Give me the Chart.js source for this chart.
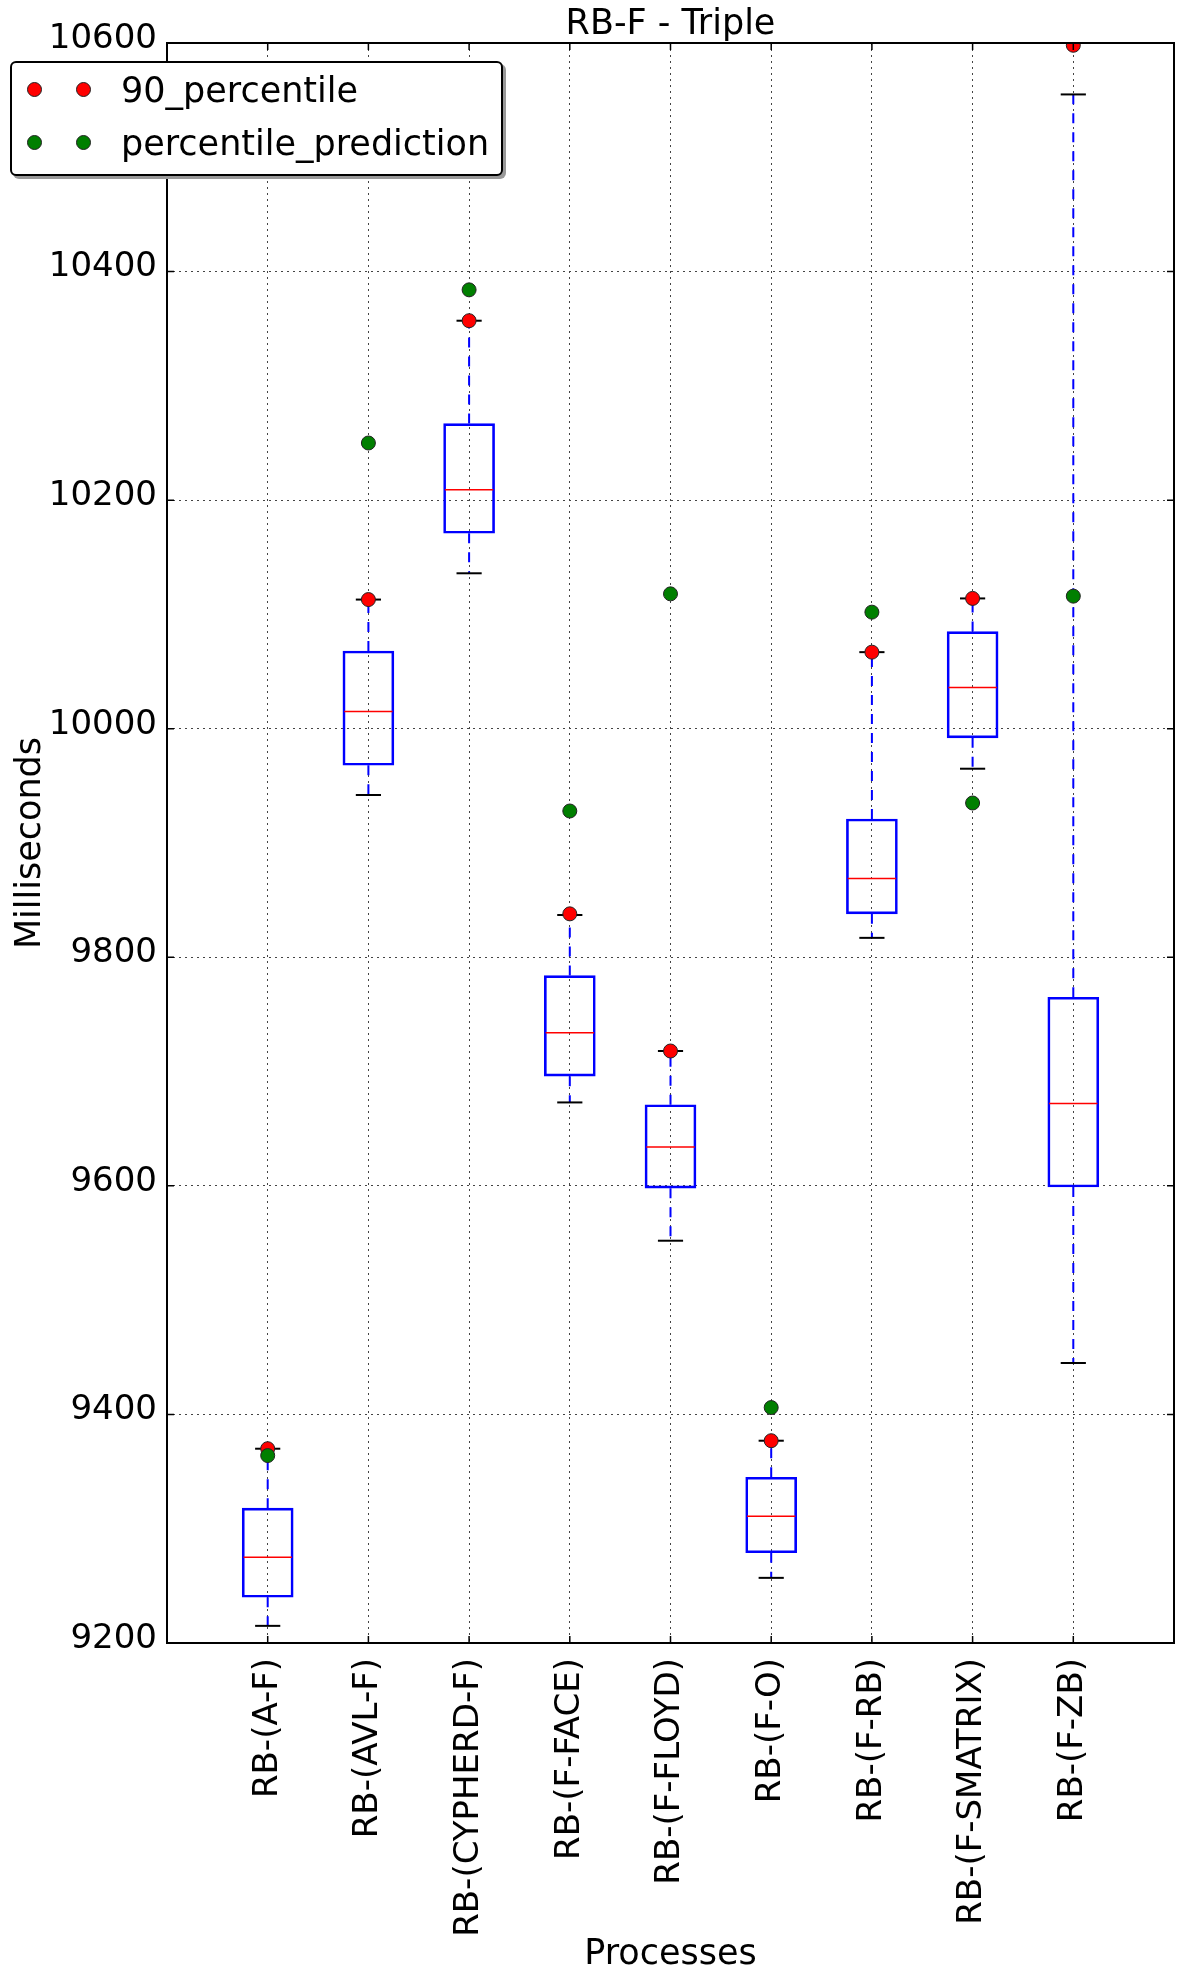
<!DOCTYPE html>
<html>
<head>
<meta charset="utf-8">
<title>RB-F - Triple</title>
<script src="https://cdn.jsdelivr.net/npm/chart.js@4.4.0/dist/chart.umd.min.js"></script>
<style>
  body { margin: 0; background: #fff; }
  #wrap { position: relative; width: 1184px; height: 1985px; }
  #legend {
    position: absolute; left: 10px; top: 61px; width: 493px; height: 115px;
    box-sizing: border-box; border: 2px solid #000; border-radius: 6px;
    background: #fff; box-shadow: 3px 3px 0 #999;
    font: 35px 'DejaVu Sans', sans-serif; color: #000;
  }
  #legend .dot { position: absolute; width: 13px; height: 13px; border-radius: 50%; border: 1px solid #222; }
  #legend .txt { position: absolute; left: 109px; line-height: 40px; white-space: nowrap; }
</style>
</head>
<body>
<div id="wrap">
  <canvas id="chart" width="1184" height="1985"></canvas>
  <div id="legend"></div>
</div>
<script>
// categories + box statistics (ms)
const categories = ['RB-(A-F)', 'RB-(AVL-F)', 'RB-(CYPHERD-F)', 'RB-(F-FACE)', 'RB-(F-FLOYD)',
                    'RB-(F-O)', 'RB-(F-RB)', 'RB-(F-SMATRIX)', 'RB-(F-ZB)'];
const whiskerLow  = [9215, 9942, 10136, 9673, 9552, 9257, 9817, 9965, 9445];
const q1          = [9240, 9968, 10171, 9696, 9598, 9279, 9838, 9992, 9599];
const median      = [9275, 10015, 10209, 9734, 9634, 9311, 9869, 10036, 9672];
const q3          = [9318, 10068, 10267, 9784, 9671, 9345, 9921, 10085, 9765];
const whiskerHigh = [9370, 10113, 10357, 9837, 9718, 9377, 10067, 10114, 10555];
const p90         = [9370, 10113, 10357, 9838, 9718, 9377, 10067, 10114, 10598];
const prediction  = [9364, 10250, 10384, 9928, 10118, 9406, 10102, 9935, 10116];
const yTicks = [9200, 9400, 9600, 9800, 10000, 10200, 10400, 10600];

const FONT = 'DejaVu Sans';
Chart.defaults.font.family = FONT;
Chart.defaults.color = '#000';

const pts = arr => arr.map((v, i) => ({ x: i + 1, y: v }));

// whiskers, caps and medians, drawn right after the boxes
const boxParts = {
  id: 'boxParts',
  afterDatasetDraw(chart, args) {
    if (args.index !== 0) return;
    const { ctx, scales: { x, y } } = chart;
    const seg = (x1, y1, x2, y2) => { ctx.beginPath(); ctx.moveTo(x1, y1); ctx.lineTo(x2, y2); ctx.stroke(); };
    ctx.save();
    categories.forEach((c, i) => {
      const pos = i + 1;
      const cx = x.getPixelForValue(pos);
      ctx.strokeStyle = '#0000ff';
      ctx.lineWidth = 2;
      ctx.setLineDash([10, 9]);
      seg(cx, y.getPixelForValue(q3[i]), cx, y.getPixelForValue(whiskerHigh[i]));
      seg(cx, y.getPixelForValue(q1[i]), cx, y.getPixelForValue(whiskerLow[i]));
      ctx.setLineDash([]);
      ctx.strokeStyle = '#000';
      const cl = x.getPixelForValue(pos - 0.125), cr = x.getPixelForValue(pos + 0.125);
      seg(cl, y.getPixelForValue(whiskerHigh[i]), cr, y.getPixelForValue(whiskerHigh[i]));
      seg(cl, y.getPixelForValue(whiskerLow[i]), cr, y.getPixelForValue(whiskerLow[i]));
      ctx.strokeStyle = '#ff0000';
      ctx.lineWidth = 1.5;
      seg(x.getPixelForValue(pos - 0.25) + 1, y.getPixelForValue(median[i]),
          x.getPixelForValue(pos + 0.25) - 1, y.getPixelForValue(median[i]));
    });
    ctx.restore();
  }
};

// full axes frame with inward tick marks
const frame = {
  id: 'frame',
  afterDatasetsDraw(chart) {
    const { ctx, chartArea: a, scales: { x, y } } = chart;
    ctx.save();
    ctx.strokeStyle = '#000';
    ctx.lineWidth = 1.5;
    ctx.beginPath();
    x.ticks.forEach(t => {
      const px = x.getPixelForValue(t.value);
      ctx.moveTo(px, a.bottom); ctx.lineTo(px, a.bottom - 7);
      ctx.moveTo(px, a.top); ctx.lineTo(px, a.top + 7);
    });
    y.ticks.forEach(t => {
      const py = y.getPixelForValue(t.value);
      ctx.moveTo(a.left, py); ctx.lineTo(a.left + 7, py);
      ctx.moveTo(a.right, py); ctx.lineTo(a.right - 7, py);
    });
    ctx.stroke();
    ctx.lineWidth = 2;
    ctx.strokeRect(a.left, a.top, a.right - a.left, a.bottom - a.top);
    ctx.restore();
  }
};

const chart = new Chart(document.getElementById('chart'), {
  type: 'bar',
  data: {
    datasets: [
      {
        label: 'box',
        data: categories.map((c, i) => ({ x: i + 1, y: [q1[i], q3[i]] })),
        backgroundColor: 'rgba(0,0,0,0)',
        borderColor: '#0000ff',
        borderWidth: 2,
        borderSkipped: false,
        barThickness: 51,
        order: 3
      },
      {
        type: 'line',
        label: '90_percentile',
        data: pts(p90),
        showLine: false,
        pointRadius: 7,
        pointBackgroundColor: '#ff0000',
        pointBorderColor: '#222',
        pointBorderWidth: 1,
        order: 2
      },
      {
        type: 'line',
        label: 'percentile_prediction',
        data: pts(prediction),
        showLine: false,
        pointRadius: 7,
        pointBackgroundColor: '#007f00',
        pointBorderColor: '#222',
        pointBorderWidth: 1,
        order: 1
      }
    ]
  },
  options: {
    responsive: false,
    animation: false,
    events: [],
    layout: { padding: { left: 0, right: 10, top: 0, bottom: 0 } },
    plugins: {
      legend: { display: false },
      tooltip: { enabled: false },
      title: {
        display: true,
        fullSize: false,
        text: 'RB-F - Triple',
        color: '#000',
        font: { size: 35, weight: 'normal', lineHeight: 1 },
        padding: { top: 7, bottom: 1 }
      }
    },
    scales: {
      x: {
        type: 'linear',
        min: 0,
        max: 10,
        offset: false,
        afterBuildTicks: s => { s.ticks = categories.map((c, i) => ({ value: i + 1 })); },
        afterFit: s => { s.height = 342; },
        ticks: {
          autoSkip: false,
          minRotation: 90,
          maxRotation: 90,
          padding: 15,
          font: { size: 34 },
          color: '#000',
          callback: v => categories[v - 1]
        },
        grid: { offset: false, color: '#444', lineWidth: 1, drawTicks: false },
        border: { display: false, dash: [2, 4] },
        title: {
          display: true,
          text: 'Processes',
          color: '#000',
          font: { size: 35 },
          padding: { top: 0, bottom: 9 }
        }
      },
      y: {
        min: 9200,
        max: 10600,
        afterBuildTicks: s => { s.ticks = yTicks.map(v => ({ value: v })); },
        afterFit: s => { s.width = 167; },
        ticks: {
          padding: 10,
          labelOffset: -4,
          font: { size: 34 },
          color: '#000',
          callback: v => String(v)
        },
        grid: { color: '#444', lineWidth: 1, drawTicks: false },
        border: { display: false, dash: [2, 4] },
        title: {
          display: true,
          text: 'Milliseconds',
          color: '#000',
          font: { size: 35 },
          padding: { top: 10, bottom: 0 }
        }
      }
    }
  },
  plugins: [boxParts, frame]
});

// legend in the matplotlib style: two markers per entry
const legend = document.getElementById('legend');
chart.data.datasets.slice(1).forEach((ds, r) => {
  const rowTop = r * 53;
  [22, 71].forEach(cx => {
    const d = document.createElement('div');
    d.className = 'dot';
    d.style.background = ds.pointBackgroundColor;
    d.style.left = (cx - 7.5) + 'px';
    d.style.top = (rowTop + 26 - 7.5) + 'px';
    legend.appendChild(d);
  });
  const t = document.createElement('div');
  t.className = 'txt';
  t.style.top = (rowTop + 7) + 'px';
  t.textContent = ds.label;
  legend.appendChild(t);
});
</script>
</body>
</html>
